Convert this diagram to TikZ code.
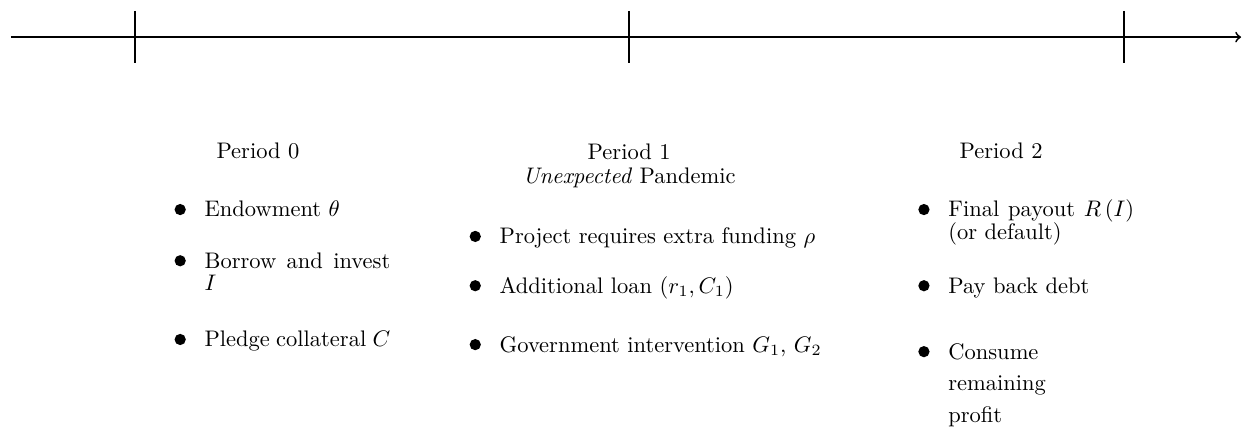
\documentclass[tikz,border=0pt]{standalone}
\usepackage{amsmath,amssymb}
\usepackage{tikz}
\usetikzlibrary{positioning}

\begin{document}
\begin{tikzpicture}[
    entry/.style={anchor=base west, inner sep=0pt, text width=2.9cm, align=justify,
      execute at begin node={\baselineskip=10pt}},
    dot/.style={circle, fill, inner sep=0pt, minimum size=5pt},
    head/.style={anchor=base, inner sep=0pt, align=center},
    tick/.style={thick}]
  \useasboundingbox (0,0) rectangle (19.42,-6.875);

  % time line
  \coordinate (start) at (0.17,-0.58);
  \coordinate (stop) at (19.39,-0.58);
  \draw[thick, ->] (start) -- (stop);
  \foreach \x/\name in {2.11/t0, 9.83/t1, 17.56/t2} {
    \coordinate (\name) at (\x,-0.58);
    \draw[tick] ([yshift=0.41cm]\name) -- ([yshift=-0.41cm]\name);
  }

  % periods
  \node[head] (p0) at (4.03,-2.48) {Period 0};
  \node[head] (p1) at (9.83,-2.86) {Period 1\\[-1.5pt] \textit{Unexpected} Pandemic};
  \node[head] (p2) at (15.64,-2.48) {Period 2};

  % period 0
  \node[entry] (e1) at (3.19,-3.39) {Endowment $\theta$};
  \node[entry] (e2) at (3.19,-4.19) {Borrow and invest $I$};
  \node[entry] (e3) at (3.19,-5.42) {Pledge collateral $C$};

  % period 1
  \node[entry, text width=5.5cm] (f1) at (7.80,-3.81) {Project requires extra funding $\rho$};
  \node[entry, text width=5.5cm] (f2) at (7.80,-4.58) {Additional loan $(r_1, C_1)$};
  \node[entry, text width=5.5cm] (f3) at (7.80,-5.50) {Government intervention $G_1$, $G_2$};

  % period 2
  \node[entry] (g1) at (14.81,-3.39) {Final payout $R\left(I\right)$ (or default)};
  \node[entry] (g2) at (14.81,-4.58) {Pay back debt};
  \node[entry, align=left] (g3) at (14.81,-5.61) {Consume\\[4pt] remaining\\[4pt] profit};

  \foreach \n in {e1,e2,e3,f1,f2,f3,g1,g2,g3}
    \node[dot, left=0.28cm of \n.base west, yshift=3.3pt] (b\n) {};
\end{tikzpicture}
\end{document}
